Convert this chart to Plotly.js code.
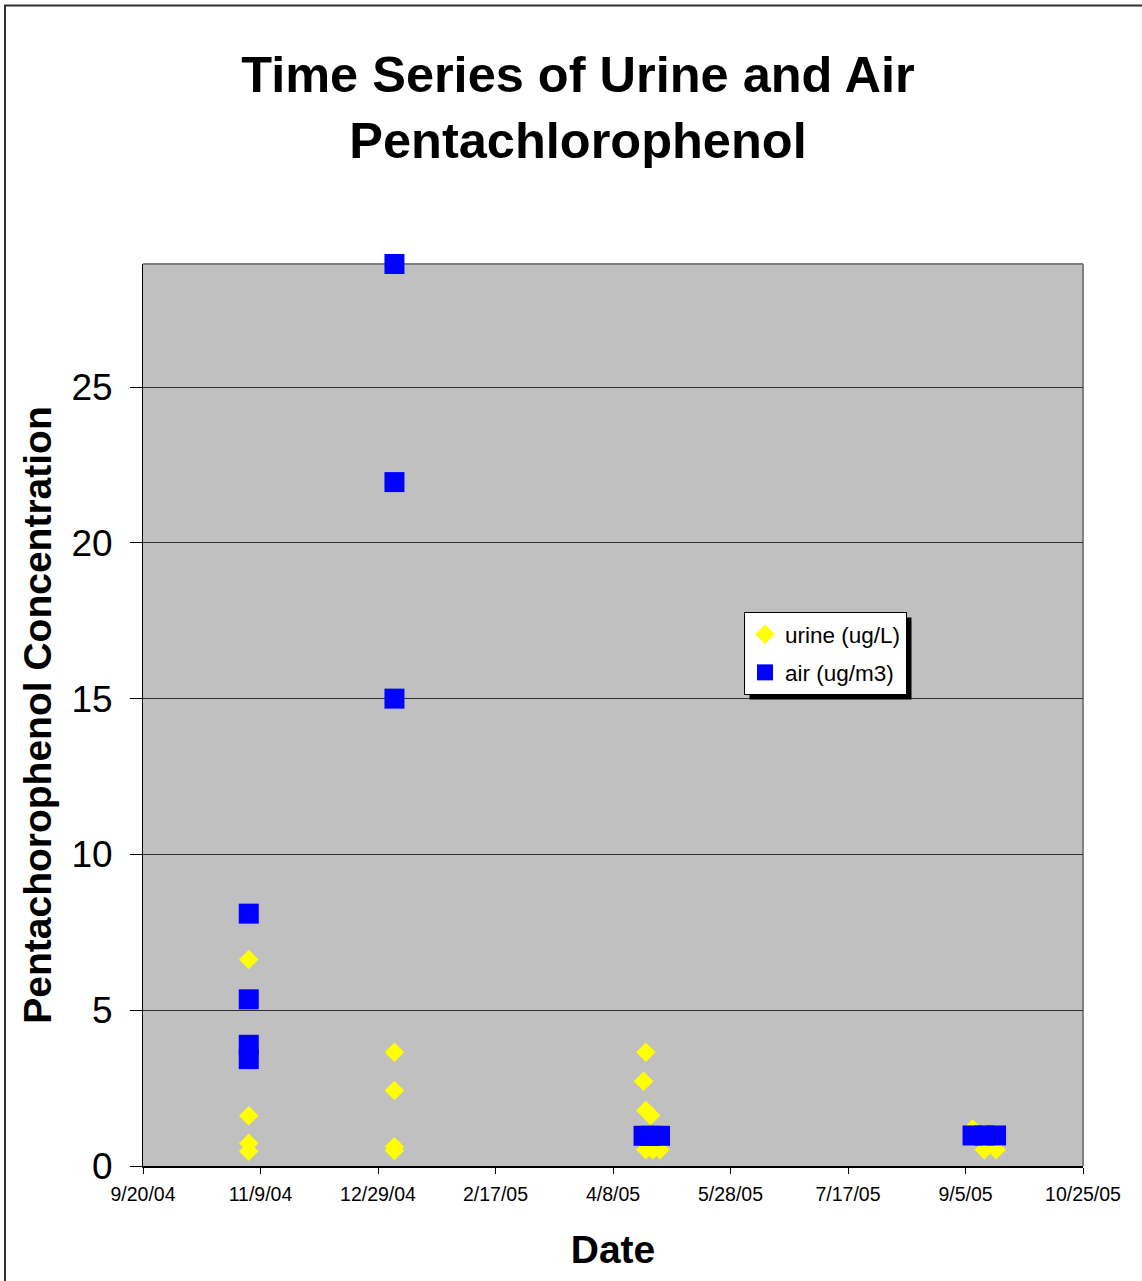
<!DOCTYPE html>
<html>
<head>
<meta charset="utf-8">
<script src="https://cdn.plot.ly/plotly-3.0.1.min.js"></script>
<style>
  html, body { margin: 0; padding: 0; background: #ffffff; }
  #chart { width: 1142px; height: 1281px; }
</style>
</head>
<body>
<div id="chart"></div>
<script>
// ---- data ----
const urineDates = [
  '2004-11-04', '2004-11-04', '2004-11-04', '2004-11-04',
  '2005-01-05', '2005-01-05', '2005-01-05', '2005-01-05',
  '2005-04-22', '2005-04-21', '2005-04-22', '2005-04-24', '2005-04-22', '2005-04-25', '2005-04-28',
  '2005-09-08', '2005-09-13', '2005-09-18'
];
const urineValues = [
  6.63, 1.61, 0.73, 0.47,
  3.65, 2.42, 0.62, 0.50,
  3.65, 2.72, 1.78, 1.62, 0.52, 0.52, 0.52,
  1.19, 0.52, 0.52
];
const airDates = [
  '2004-11-04', '2004-11-04', '2004-11-04', '2004-11-04',
  '2005-01-05', '2005-01-05', '2005-01-05',
  '2005-04-21', '2005-04-24', '2005-04-28',
  '2005-09-08', '2005-09-13', '2005-09-18'
];
const airValues = [
  8.10, 5.35, 3.89, 3.43,
  28.95, 21.95, 15.0,
  0.97, 0.97, 0.97,
  0.98, 0.98, 0.98
];
const xTickDates = ['2004-09-20', '2004-11-09', '2004-12-29', '2005-02-17', '2005-04-08',
                    '2005-05-28', '2005-07-17', '2005-09-05', '2005-10-25'];
const xTickLabels = ['9/20/04', '11/9/04', '12/29/04', '2/17/05', '4/8/05',
                     '5/28/05', '7/17/05', '9/5/05', '10/25/05'];
const yTickValues = [0, 5, 10, 15, 20, 25];
const seriesNames = ['urine (ug/L)', 'air (ug/m3)'];

const FONT = 'Arial, "Liberation Sans", Helvetica, sans-serif';

const traces = [
  {
    x: urineDates, y: urineValues, name: seriesNames[0],
    type: 'scatter', mode: 'markers', legendgroup: 'u',
    marker: { symbol: 'diamond', size: 15, color: '#FFFF00', line: { width: 0 } },
    cliponaxis: false
  },
  {
    x: airDates, y: airValues, name: seriesNames[1],
    type: 'scatter', mode: 'markers', legendgroup: 'a',
    marker: { symbol: 'square', size: 20, color: '#0000FF', line: { width: 0 } },
    cliponaxis: false
  }
];

const L = 143, R = 1142 - 1083, T = 264, B = 1281 - 1166;
const PW = 1142 - L - R, PH = 1281 - T - B;
const px = v => (v - L) / PW;
const py = v => (1281 - B - v) / PH;

const layout = {
  width: 1142, height: 1281,
  margin: { l: L, r: R, t: T, b: B, pad: 0 },
  paper_bgcolor: '#FFFFFF',
  plot_bgcolor: '#C0C0C0',
  font: { family: FONT, color: '#000000' },
  title: {
    text: '<b>Time Series of Urine and Air<br>Pentachlorophenol</b>',
    font: { family: FONT, size: 50.5, color: '#000000' },
    x: 578 / 1142, xanchor: 'center', xref: 'container',
    y: 1 - 92 / 1281, yanchor: 'top', yref: 'container'
  },
  xaxis: {
    type: 'date',
    range: [xTickDates[0], xTickDates[xTickDates.length - 1]],
    tickmode: 'array', tickvals: xTickDates, ticktext: xTickLabels,
    tickfont: { family: FONT, size: 19.5, color: '#000000' },
    ticks: 'outside', ticklen: 6, tickwidth: 1, tickcolor: '#000000',
    ticklabelstandoff: 4,
    showline: true, linecolor: '#000000', linewidth: 1.5,
    showgrid: false, zeroline: false, fixedrange: true,
    title: { text: '<b>Date</b>', font: { family: FONT, size: 39, color: '#000000' }, standoff: 32 }
  },
  yaxis: {
    range: [0, 28.95],
    tickmode: 'array', tickvals: yTickValues,
    tickfont: { family: FONT, size: 37, color: '#000000' },
    ticks: 'outside', ticklen: 12, tickwidth: 1, tickcolor: '#000000',
    ticklabelstandoff: 10,
    showline: true, linecolor: '#000000', linewidth: 1,
    showgrid: true, gridcolor: '#303030', gridwidth: 1,
    zeroline: false, fixedrange: true,
    title: { text: '<b>Pentachorophenol Concentration</b>', font: { family: FONT, size: 39, color: '#000000' }, standoff: 7 }
  },
  showlegend: true,
  legend: {
    x: px(744), y: py(612), xanchor: 'left', yanchor: 'top',
    bgcolor: '#FFFFFF', bordercolor: '#000000', borderwidth: 1,
    font: { family: FONT, size: 22.5, color: '#000000' },
    tracegroupgap: 6, itemwidth: 30, traceorder: 'grouped'
  },
  shapes: [
    // legend shadow (re-fitted to the drawn legend box after rendering)
    { type: 'rect', xref: 'paper', yref: 'paper',
      x0: px(748), x1: px(907), y0: py(618), y1: py(697),
      fillcolor: '#000000', line: { width: 0 }, layer: 'above' },
    // plot frame top & right (gray)
    { type: 'line', xref: 'paper', yref: 'paper', x0: 0, x1: 1, y0: 1, y1: 1,
      line: { color: '#808080', width: 2 }, layer: 'below' },
    { type: 'line', xref: 'paper', yref: 'paper', x0: 1, x1: 1, y0: 0, y1: 1,
      line: { color: '#808080', width: 2 }, layer: 'below' },
    // outer chart border
    { type: 'rect', xref: 'paper', yref: 'paper',
      x0: px(5), x1: px(1160), y0: py(1300), y1: py(5.5),
      line: { color: '#303030', width: 2 }, fillcolor: 'rgba(0,0,0,0)', layer: 'below' }
  ]
};

Plotly.newPlot('chart', traces, layout, { staticPlot: true, displayModeBar: false }).then(gd => {
  const bg = gd.querySelector('.legend .bg');
  if (!bg) return;
  const r = bg.getBoundingClientRect();
  const c = gd.getBoundingClientRect();
  const left = r.left - c.left, top = r.top - c.top;
  const right = left + r.width, bottom = top + r.height;
  const off = 5;
  return Plotly.relayout(gd, {
    'shapes[0].x0': px(left + off), 'shapes[0].x1': px(right + off),
    'shapes[0].y0': py(bottom + off), 'shapes[0].y1': py(top + off)
  });
});
</script>
</body>
</html>
